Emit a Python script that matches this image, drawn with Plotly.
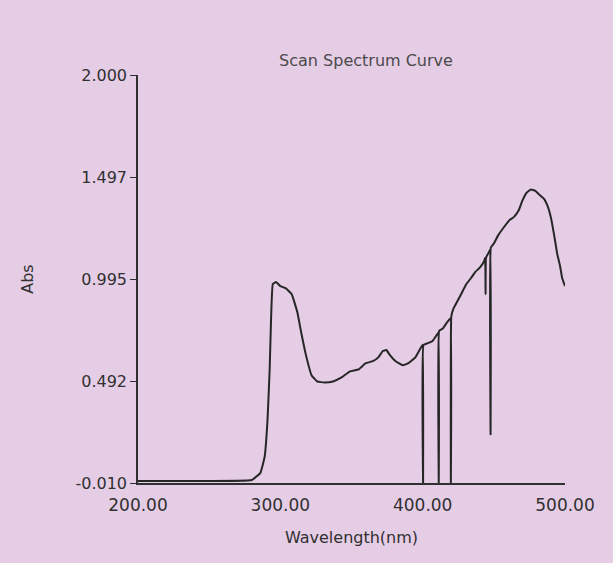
import plotly.graph_objects as go

# Scan spectrum data
wavelength_nm = [200, 240, 280, 286, 289, 291, 292.5, 293.5, 294.7, 297, 300, 303.7, 308, 312,
                 314.7, 318, 322, 326, 331, 337, 343, 349, 355, 360, 365, 369, 372, 374.5, 377,
                 381, 386, 390, 395, 399, 400, 400.3, 400.6, 404, 407, 409, 411, 411.3, 411.6,
                 414, 417, 419.5, 419.8, 420.1, 421.7, 424, 427, 430.7, 434, 437, 440, 443,
                 443.9, 444.2, 444.5, 446, 447.5, 447.7, 447.9, 450, 453, 456, 461, 464, 467.6,
                 470, 473, 476, 479, 482, 485.3, 488, 490, 492.4, 494.5, 496.5, 498, 500]
absorbance = [0, 0, 0.005, 0.04, 0.12, 0.3, 0.55, 0.8, 0.97, 0.98, 0.96, 0.95, 0.92, 0.83,
              0.73, 0.62, 0.52, 0.49, 0.485, 0.49, 0.51, 0.54, 0.55, 0.58, 0.59, 0.61, 0.64,
              0.645, 0.62, 0.59, 0.57, 0.58, 0.61, 0.66, 0.67, -0.01, 0.67, 0.68, 0.69, 0.71,
              0.73, -0.01, 0.74, 0.75, 0.78, 0.80, -0.01, 0.81, 0.85, 0.88, 0.92, 0.97, 1.0,
              1.03, 1.05, 1.08, 1.10, 0.92, 1.10, 1.12, 1.14, 0.23, 1.15, 1.17, 1.21, 1.24,
              1.285, 1.30, 1.335, 1.38, 1.42, 1.436, 1.43, 1.41, 1.39, 1.35, 1.30, 1.21, 1.12,
              1.06, 1.0, 0.96]

y_tick_vals = [-0.010, 0.492, 0.995, 1.497, 2.000]
y_tick_text = ["-0.010", "0.492", "0.995", "1.497", "2.000"]
x_tick_vals = [200, 300, 400, 500]
x_tick_text = ["200.00", "300.00", "400.00", "500.00"]

bg = "#e6cde6"
ink = "#303030"
font = "DejaVu Sans"

fig = go.Figure()
fig.add_trace(go.Scatter(
    x=wavelength_nm, y=absorbance, mode="lines", line_shape="spline", line_smoothing=0.3,
    line=dict(color="#262626", width=2), showlegend=False, hoverinfo="skip"))

fig.update_layout(
    width=613, height=563,
    paper_bgcolor=bg, plot_bgcolor=bg,
    margin=dict(l=138, r=48, t=75, b=80),
    title=dict(text="Scan Spectrum Curve", x=366 / 613, xanchor="center",
               y=1 - 60 / 563, yanchor="middle",
               font=dict(family=font, size=16, color="#4a4a4a")),
    font=dict(family=font, color=ink),
)
fig.update_xaxes(
    range=[200, 500], tickvals=x_tick_vals, ticktext=x_tick_text,
    showline=True, linecolor=ink, linewidth=1.5, ticks="", showgrid=False, zeroline=False,
    tickfont=dict(family=font, size=17, color=ink), ticklabelstandoff=6,
    title=dict(text="Wavelength(nm)", font=dict(family=font, size=16, color=ink), standoff=18),
)
fig.update_yaxes(
    range=[-0.01, 2.0], tickvals=y_tick_vals, ticktext=y_tick_text,
    showline=True, linecolor=ink, linewidth=1.5, ticks="outside", ticklen=6, tickcolor=ink,
    showgrid=False, zeroline=False,
    tickfont=dict(family=font, size=16, color=ink),
    title=dict(text="Abs", font=dict(family=font, size=16, color=ink), standoff=38),
)

fig.write_html("out.html", config={"displayModeBar": False},
               post_script="document.body.style.margin='0';"
                           "document.body.style.background='" + bg + "';")
